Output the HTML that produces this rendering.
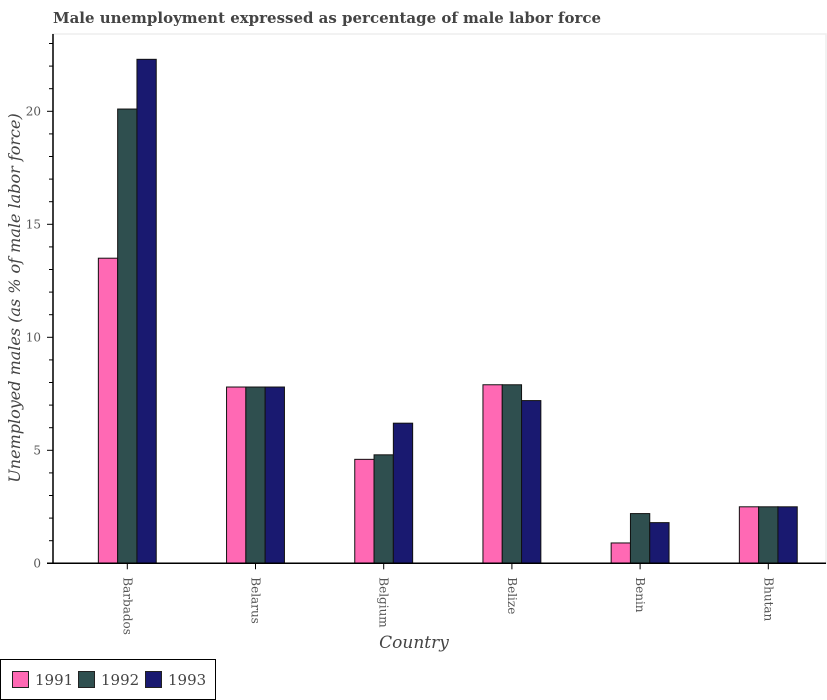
<!DOCTYPE html>
<html><head><meta charset="utf-8"><style>
html,body{margin:0;padding:0;background:#fff;}
svg{display:block;font-family:"DejaVu Serif","Liberation Serif",serif;}
</style></head><body>
<svg id="chart" width="827" height="700" viewBox="0 0 827 700">
<text x="53" y="23" font-size="15" font-weight="bold" fill="#444" textLength="548" lengthAdjust="spacingAndGlyphs">Male unemployment expressed as percentage of male labor force</text>
<rect x="53" y="34" width="773" height="529" fill="none" stroke="#eee" stroke-width="1.5"/>
<g id="bars"></g>
<g id="yaxis"></g>
<g id="xaxis"></g>
<text transform="translate(20,298) rotate(-90)" text-anchor="middle" font-size="16" font-style="italic" fill="#444">Unemployed males (as % of male labor force)</text>
<text x="414" y="648" text-anchor="middle" font-size="17" font-style="italic" fill="#444">Country</text>
<g>
<rect x="0.5" y="659.5" width="215" height="40" fill="#fff" stroke="#000"/>
<rect x="12.5" y="671.5" width="16" height="16" fill="#FF69B4" stroke="#222"/>
<text x="35" y="685" font-size="15" fill="#444">1991</text>
<rect x="78.5" y="671.5" width="16" height="16" fill="#2F4F4F" stroke="#222"/>
<text x="101" y="685" font-size="15" fill="#444">1992</text>
<rect x="145.5" y="671.5" width="16" height="16" fill="#191970" stroke="#222"/>
<text x="168" y="685" font-size="15" fill="#444">1993</text>
</g>
</svg>
<script>
const categories = ["Barbados","Belarus","Belgium","Belize","Benin","Bhutan"];
const values1991 = [13.5,7.8,4.6,7.9,0.9,2.5];
const values1992 = [20.1,7.8,4.8,7.9,2.2,2.5];
const values1993 = [22.3,7.8,6.2,7.2,1.8,2.5];
const yTicks = [0,5,10,15,20];
const seriesNames = ["1991","1992","1993"];

const NS = "http://www.w3.org/2000/svg";
const x0 = 53, yBase = 563.3, unit = 22.6, firstC = 127.3, step = 128.2, bw = 19.3;
function yScale(v){ return yBase - v*unit; }
function xCenter(i){ return firstC + i*step; }
function mk(tag, attrs, parent){ const e=document.createElementNS(NS,tag); for(const k in attrs) e.setAttribute(k,attrs[k]); parent.appendChild(e); return e; }

const bars = document.getElementById('bars');
const series = [values1991, values1992, values1993];
const colors = ["#FF69B4","#2F4F4F","#191970"];
series.forEach((vals, s) => {
  vals.forEach((v, i) => {
    const x = xCenter(i) + (s - 1.5)*bw;
    const r = mk('rect', {x:x, y:yScale(v), width:bw, height:yBase - yScale(v), fill:colors[s], stroke:"#111", "stroke-width":1}, bars);
    
    
  });
});

const ya = document.getElementById('yaxis');
mk('line', {x1:x0, y1:34, x2:x0, y2:yBase, stroke:"#000", "stroke-width":1.5}, ya);
for (let v = 0; v <= 23; v++) {
  const len = (v % 5 === 0) ? 6 : 4;
  mk('line', {x1:x0-len, y1:yScale(v), x2:x0, y2:yScale(v), stroke:"#000", "stroke-width":1}, ya);
}
yTicks.forEach(t => {
  const tx = mk('text', {x:x0-12, y:yScale(t)+4, "text-anchor":"end", "font-size":12, fill:"#555"}, ya);
  tx.textContent = t;
  
  
});

const xa = document.getElementById('xaxis');
mk('line', {x1:x0-6, y1:yBase, x2:826, y2:yBase, stroke:"#000", "stroke-width":1.5}, xa);
categories.forEach((c, i) => {
  const cx = xCenter(i);
  mk('line', {x1:cx, y1:yBase, x2:cx, y2:yBase+6, stroke:"#000", "stroke-width":1}, xa);
  const tx = mk('text', {transform:`translate(${cx-4},${yBase+14}) rotate(90)`, "font-size":12, fill:"#555"}, xa);
  tx.textContent = c;
  
  
});
</script>
</body></html>
